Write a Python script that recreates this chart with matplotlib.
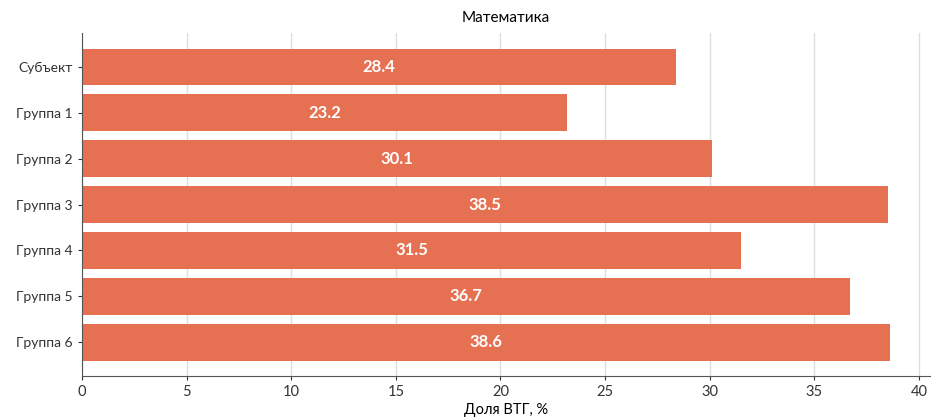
import matplotlib.pyplot as plt

plt.rcParams['font.family'] = ['Lato', 'DejaVu Sans']

groups = ['Субъект', 'Группа 1', 'Группа 2', 'Группа 3', 'Группа 4', 'Группа 5', 'Группа 6']
values = [28.4, 23.2, 30.1, 38.5, 31.5, 36.7, 38.6]

fig = plt.figure(figsize=(9.31, 4.17), dpi=100)
ax = fig.add_axes([0.088, 0.098, 0.911, 0.823])

bars = ax.barh(groups, values, height=0.8, color='#E57052', zorder=2)
ax.invert_yaxis()

# value labels in the middle of each bar
for bar, v in zip(bars, values):
    ax.text(v / 2, bar.get_y() + bar.get_height() / 2, f'{v}',
            ha='center', va='center', color='white', fontsize=12, fontweight='bold')

ax.set_title('Математика', fontsize=11, pad=8)
ax.set_xlabel('Доля ВТГ, %', fontsize=10.5, labelpad=3)
ax.set_xticks(range(0, 41, 5))
ax.tick_params(axis='x', labelsize=10.5, colors='#333333', length=3)
ax.tick_params(axis='y', labelsize=10, colors='#333333', length=3)
ax.grid(axis='x', color='#dedede', linewidth=1, zorder=0)
for s in ['top', 'right']:
    ax.spines[s].set_visible(False)
for s in ['left', 'bottom']:
    ax.spines[s].set_color('#555555')

fig.savefig('out.png', dpi=100)
